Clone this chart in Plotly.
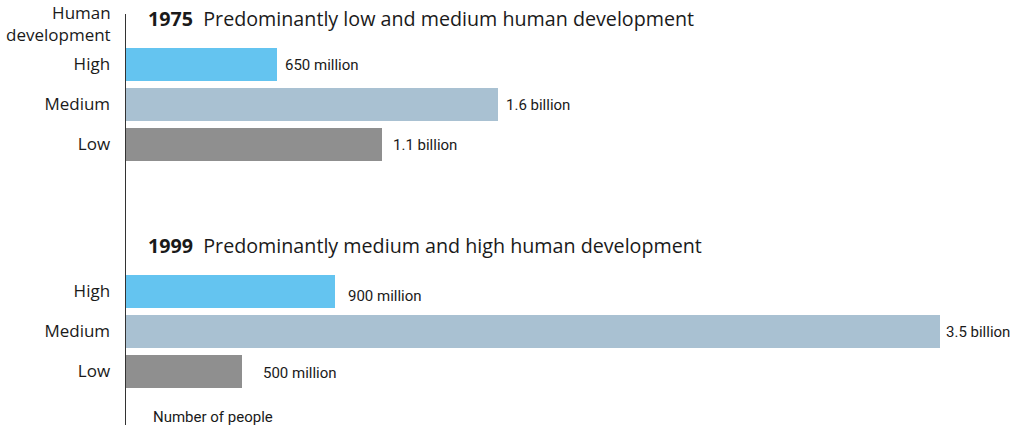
import plotly.graph_objects as go

# ---- data ----
years = ["1975", "1999"]
subtitles = ["Predominantly low and medium human development",
             "Predominantly medium and high human development"]
levels = ["High", "Medium", "Low"]
values_1975 = [0.65, 1.6, 1.1]          # billions of people
values_1999 = [0.9, 3.5, 0.5]
labels_1975 = ["650 million", "1.6 billion", "1.1 billion"]
labels_1999 = ["900 million", "3.5 billion", "500 million"]

# ---- style ----
colors = {"High": "#64C4F0", "Medium": "#A9C1D2", "Low": "#8F8F8F"}
group_offset = [0.0, 5.675]     # row offset of each year block
label_shift = [[6, 6, 9], [11, 4, 19]]
label_yshift = [[0, 0, 0], [-4, 0, -1]]
TEXT = "#1a1a1a"
MAIN_FONT = "Open Sans"
NARROW_FONT = "Roboto, sans-serif"

fig = go.Figure()
all_vals = [values_1975, values_1999]
all_labels = [labels_1975, labels_1999]

tickvals, ticktext = [], []
for g, yr in enumerate(years):
    rows = [group_offset[g] + i for i in range(len(levels))]
    for i, lev in enumerate(levels):
        fig.add_trace(go.Bar(
            x=[all_vals[g][i]], y=[rows[i]], orientation="h",
            marker=dict(color=colors[lev], line=dict(width=0)),
            width=0.83, showlegend=False, hoverinfo="skip"))
        fig.add_annotation(x=all_vals[g][i], y=rows[i], xref="x", yref="y",
                           text=all_labels[g][i], showarrow=False,
                           xanchor="left", xshift=label_shift[g][i],
                           yshift=label_yshift[g][i],
                           font=dict(family=NARROW_FONT, size=15, color=TEXT))
    tickvals += rows
    ticktext += levels
    # block title
    fig.add_annotation(x=0, y=group_offset[g] - 1.16, xref="x", yref="y",
                       text=f"<b>{yr}</b>  {subtitles[g]}", showarrow=False,
                       xanchor="left", xshift=20,
                       font=dict(family=MAIN_FONT, size=19.7, color=TEXT))

fig.add_annotation(x=0, y=1.0, xref="paper", yref="paper",
                   text="Human<br>development", showarrow=False,
                   xanchor="right", yanchor="top", align="right",
                   xshift=113, yshift=1,
                   font=dict(family=MAIN_FONT, size=17, color=TEXT))
fig.add_annotation(x=0, y=8.8, xref="x", yref="y",
                   text="Number of people", showarrow=False,
                   xanchor="left", xshift=25,
                   font=dict(family=NARROW_FONT, size=15, color=TEXT))

fig.update_layout(
    width=1013, height=430,
    margin=dict(l=0, r=0, t=0, b=0),
    paper_bgcolor="white", plot_bgcolor="white",
    bargap=0,
    xaxis=dict(domain=[126 / 1013, 940 / 1013], range=[0, 3.5],
               showgrid=False, zeroline=False, showticklabels=False,
               showline=False, fixedrange=True),
    yaxis=dict(domain=[5 / 430, 416 / 430], range=[9.0125, -1.2625],
               tickvals=tickvals, ticktext=ticktext,
               ticks="outside", ticklen=11, tickcolor="rgba(0,0,0,0)",
               tickfont=dict(family=MAIN_FONT, size=17, color=TEXT),
               showgrid=False, zeroline=False,
               showline=True, linecolor="#333333", linewidth=1.5,
               fixedrange=True),
)

fig.write_html("out.html",
               config={"displayModeBar": False, "staticPlot": True},
               post_script="document.body.style.margin='0';"
                           "document.body.style.overflow='hidden';")
